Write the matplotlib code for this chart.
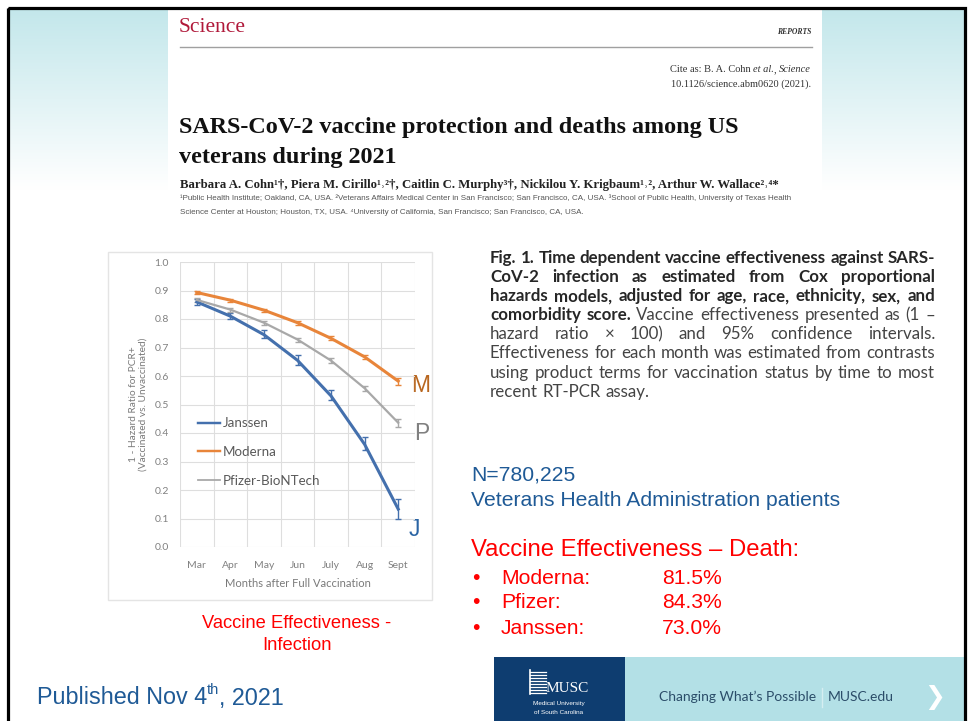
import numpy as np
import matplotlib
matplotlib.use("Agg")
import matplotlib.pyplot as plt
from matplotlib.colors import LinearSegmentedColormap
from matplotlib.patches import Rectangle
from matplotlib.lines import Line2D

# chart data (1 - hazard ratio, with 95% CI)
months = ["Mar", "Apr", "May", "Jun", "July", "Aug", "Sept"]
janssen = [0.86, 0.81, 0.745, 0.655, 0.53, 0.36, 0.133]
janssen_lo = [0.85, 0.80, 0.735, 0.64, 0.515, 0.34, 0.10]
janssen_hi = [0.87, 0.82, 0.76, 0.675, 0.55, 0.385, 0.17]
moderna = [0.893, 0.866, 0.831, 0.787, 0.732, 0.667, 0.582]
moderna_lo = [0.888, 0.860, 0.825, 0.780, 0.725, 0.658, 0.570]
moderna_hi = [0.898, 0.871, 0.836, 0.793, 0.740, 0.675, 0.592]
pfizer = [0.867, 0.833, 0.787, 0.728, 0.654, 0.557, 0.436]
pfizer_lo = [0.860, 0.826, 0.780, 0.720, 0.645, 0.548, 0.420]
pfizer_hi = [0.875, 0.840, 0.793, 0.735, 0.662, 0.566, 0.450]
series_names = ["Janssen", "Moderna", "Pfizer-BioNTech"]

# death effectiveness list on the right
death_brands = ["Moderna:", "Pfizer:", "Janssen:"]
death_values = ["81.5%", "84.3%", "73.0%"]

caption_lines = [
    ("Fig. 1. Time dependent vaccine effectiveness against SARS-", ""),
    ("CoV-2 infection as estimated from Cox proportional", ""),
    ("hazards models, adjusted for age, race, ethnicity, sex, and", ""),
    ("comorbidity score.", "Vaccine effectiveness presented as (1 \u2013"),
    ("", "hazard ratio \u00d7 100) and 95% confidence intervals."),
    ("", "Effectiveness for each month was estimated from contrasts"),
    ("", "using product terms for vaccination status by time to most"),
    ("", "recent RT-PCR assay."),
]

plt.rcParams['font.family'] = ['Lato', 'DejaVu Sans']

fig = plt.figure(figsize=(9.69, 7.21), dpi=100)
renderer = fig.canvas.get_renderer()


def width_of(t):
    return t.get_window_extent(renderer).width


# background layer in pixel coordinates
bg = fig.add_axes([0, 0, 1, 1])
bg.set_xlim(0, 969)
bg.set_ylim(721, 0)
bg.axis('off')

grad = np.linspace(0, 1, 200).reshape(-1, 1)
cmap = LinearSegmentedColormap.from_list("sky", ["#c3e7eb", "#ffffff"])
bg.imshow(grad, cmap=cmap, extent=(8, 965, 190, 8), aspect='auto', zorder=0)

# Science paper header
bg.add_patch(Rectangle((168, 8), 654, 222, facecolor='white', edgecolor='none', zorder=1))
serif = ['Liberation Serif', 'DejaVu Serif']
sans = ['Liberation Sans', 'DejaVu Sans']
bg.text(179, 27, "Science", family=serif, fontsize=15.5, color='#b0193a', va='center', zorder=2)
bg.text(811, 32, "REPORTS", family=serif, fontsize=5.5, style='italic', fontweight='bold',
        color='#333333', ha='right', va='center', zorder=2)
bg.plot([180, 812], [47, 47], color='#a0a0a0', lw=1, zorder=2)

# citation line with italic parts: (text, style, space after)
sp_a = bg.text(0, -50, "a a", family=serif, fontsize=7.5)
sp_b = bg.text(0, -50, "aa", family=serif, fontsize=7.5)
serif_space = width_of(sp_a) - width_of(sp_b)
sp_a.remove()
sp_b.remove()
cite_parts = [("Cite as: B. A. Cohn", 'normal', serif_space), ("et al.", 'italic', 0),
              (",", 'normal', serif_space), ("Science", 'italic', 0)]
cite_texts = [bg.text(0, 70, s, family=serif, fontsize=7.5, style=st, color='#333333',
                      va='center', zorder=2) for s, st, _ in cite_parts]
cite_w = [width_of(t) for t in cite_texts]
xc = 811 - sum(cite_w) - sum(p[2] for p in cite_parts)
for t, w, p in zip(cite_texts, cite_w, cite_parts):
    t.set_x(xc)
    xc += w + p[2]
bg.text(811, 84, "10.1126/science.abm0620 (2021).", family=serif, fontsize=7.5,
        color='#333333', ha='right', va='center', zorder=2)
bg.text(179, 127, "SARS-CoV-2 vaccine protection and deaths among US", family=serif,
        fontsize=17.4, fontweight='bold', color='#111111', va='center', zorder=2)
bg.text(179, 157, "veterans during 2021", family=serif,
        fontsize=17.4, fontweight='bold', color='#111111', va='center', zorder=2)
bg.text(180, 185, "Barbara A. Cohn\u00b9\u2020, Piera M. Cirillo\u00b9\u02d2\u00b2\u2020, Caitlin C. Murphy\u00b3\u2020, "
        "Nickilou Y. Krigbaum\u00b9\u02d2\u00b2, Arthur W. Wallace\u00b2\u02d2\u2074*",
        family=serif, fontsize=9.2, fontweight='bold', color='#222222', va='center', zorder=2)
bg.text(180, 198, "\u00b9Public Health Institute; Oakland, CA, USA. \u00b2Veterans Affairs Medical Center in San Francisco; "
        "San Francisco, CA, USA. \u00b3School of Public Health, University of Texas Health",
        family=sans, fontsize=5.8, color='#555555', va='center', zorder=2)
bg.text(180, 212, "Science Center at Houston; Houston, TX, USA. \u2074University of California, San Francisco; "
        "San Francisco, CA, USA.", family=sans, fontsize=5.8, color='#555555', va='center', zorder=2)

# chart picture box
bg.add_patch(Rectangle((108, 252), 324, 348, facecolor='white', edgecolor='#e4e4e4', lw=1, zorder=1))

# justified figure caption, font sized so the widest line nearly fills the column
cap_x0, cap_x1, cap_y0, cap_dy = 490, 935, 258, 19.1
base_fs = 10.0
probe = bg.text(0, -50, caption_lines[2][0], fontsize=base_fs, fontweight='bold')
cap_fs = base_fs * (cap_x1 - cap_x0) * 0.965 / width_of(probe)
probe.remove()

probe_a = bg.text(0, -50, "a a", fontsize=cap_fs)
probe_b = bg.text(0, -50, "aa", fontsize=cap_fs)
space_w = width_of(probe_a) - width_of(probe_b)
probe_a.remove()
probe_b.remove()

for i, (bold_part, reg_part) in enumerate(caption_lines):
    y = cap_y0 + i * cap_dy
    words = [(w, 'bold', '#262626') for w in bold_part.split()] + \
            [(w, 'normal', '#444444') for w in reg_part.split()]
    texts = [bg.text(0, y, w, fontsize=cap_fs, fontweight=wt, color=c,
                     va='center', zorder=2) for w, wt, c in words]
    widths = [width_of(t) for t in texts]
    last = i == len(caption_lines) - 1
    gap = space_w if last else (cap_x1 - cap_x0 - sum(widths)) / (len(words) - 1)
    x = cap_x0
    for t, w in zip(texts, widths):
        t.set_x(x)
        x += w + gap

# ---- the chart ----
ax = fig.add_axes([180 / 969, 1 - 547 / 721, 235 / 969, 285 / 721])
ax.set_facecolor('none')
xs = np.arange(len(months))
styles = [("#4470ad", 2.2), ("#e8853a", 2.2), ("#a8a8a8", 1.6)]
handles = []
for vals, lo, hi, name, (col, lw) in zip([janssen, moderna, pfizer],
                                         [janssen_lo, moderna_lo, pfizer_lo],
                                         [janssen_hi, moderna_hi, pfizer_hi],
                                         series_names, styles):
    vals = np.array(vals)
    err = [vals - np.array(lo), np.array(hi) - vals]
    ax.errorbar(xs, vals, yerr=err, color=col, lw=lw, elinewidth=1, capsize=2,
                capthick=1, zorder=3)
    handles.append(Line2D([], [], color=col, lw=lw * 0.8, label=name))

ax.set_xlim(-0.5, len(months) - 0.5)
ax.set_ylim(0, 1.0)
ax.set_yticks(np.arange(0, 1.01, 0.1))
ax.set_yticklabels([f"{v:.1f}" for v in np.arange(0, 1.01, 0.1)])
ax.set_xticks(xs)
ax.set_xticklabels(months)
ax.set_xticks(np.arange(-0.5, len(months)), minor=True)
ax.grid(axis='y', color='#dedede', lw=0.8)
ax.grid(axis='x', which='minor', color='#dedede', lw=0.8)
for s in ax.spines.values():
    s.set_visible(False)
ax.tick_params(which='both', length=0, labelsize=7.5, labelcolor='#808080')
ax.tick_params(axis='y', pad=8)
ax.tick_params(axis='x', pad=10)
ax.set_xlabel("Months after Full Vaccination", fontsize=8, color='#7a7a7a', labelpad=6)
ax.set_ylabel("1 - Hazard Ratio for PCR+\n(Vaccinated vs. Unvaccinated)", fontsize=7.3,
              color='#7a7a7a', labelpad=5, linespacing=1.05)
leg = ax.legend(handles=handles, loc='upper left', bbox_to_anchor=(0.075, 0.455), frameon=False,
                fontsize=9.6, handlelength=1.7, handletextpad=0.2, labelspacing=1.25,
                borderpad=0, borderaxespad=0)
for txt in leg.get_texts():
    txt.set_color('#595959')

# series letters next to the chart
bg.text(411, 385, "M", family=sans, fontsize=16.5, color='#b8661f', va='center', zorder=3)
bg.text(414, 434, "P", family=sans, fontsize=16.5, color='#808080', va='center', zorder=3)
bg.text(409, 530, "J", family=sans, fontsize=16.5, color='#2a64a4', va='center', zorder=3)

# slide text, right side
blue = '#1f5a96'
red = '#ff0000'
bg.text(471, 475, "N=780,225", family=sans, fontsize=15.2, color=blue, va='center')
bg.text(471, 500, "Veterans Health Administration patients", family=sans, fontsize=15.2,
        color=blue, va='center')
bg.text(471, 550, "Vaccine Effectiveness \u2013 Death:", family=sans, fontsize=17.2, color=red, va='center')
for k, (brand, val) in enumerate(zip(death_brands, death_values)):
    y = 578 + k * 25
    bg.text(472, y, "\u2022", family=sans, fontsize=15.2, color=red, va='center')
    bg.text(501, y, brand, family=sans, fontsize=15.2, color=red, va='center')
    bg.text(662, y, val, family=sans, fontsize=15.2, color=red, va='center')

bg.text(297, 623, "Vaccine Effectiveness -", family=sans, fontsize=13.2, color=red, ha='center', va='center')
bg.text(297, 646, "Infection", family=sans, fontsize=13.2, color=red, ha='center', va='center')

# published date with superscript
p1 = bg.text(37, 698, "Published Nov 4", family=sans, fontsize=16.8, color=blue, va='center')
x_after = 37 + width_of(p1)
p2 = bg.text(x_after, 690, "th", family=sans, fontsize=10.5, color=blue, va='center')
bg.text(x_after + width_of(p2), 698, ", 2021", family=sans, fontsize=16.8, color=blue, va='center')

# MUSC footer
bg.add_patch(Rectangle((494, 657), 131, 70, facecolor='#0e3d70', edgecolor='none', zorder=1))
bg.add_patch(Rectangle((625, 657), 340, 70, facecolor='#b3e0e6', edgecolor='none', zorder=1))
for yy in np.arange(672, 694, 3):
    bg.plot([530, 546], [yy, yy], color='white', lw=0.9, zorder=2)
bg.plot([530, 530], [670, 694], color='white', lw=1.2, zorder=2)
bg.text(546, 688, "MUSC", family=serif, fontsize=11, color='white', va='center', zorder=2)
bg.text(559, 703, "Medical University", family=sans, fontsize=4.6, color='white', ha='center',
        va='center', zorder=2)
bg.text(559, 712, "of South Carolina", family=sans, fontsize=4.6, color='white', ha='center',
        va='center', zorder=2)
bg.text(659, 697, "Changing What\u2019s Possible", fontsize=10, color='#2b4d69', va='center', zorder=2)
bg.plot([822, 822], [688, 707], color='#d5eef1', lw=1, zorder=2)
bg.text(828, 697, "MUSC.edu", fontsize=10, color='#2b4d69', va='center', zorder=2)
bg.text(924, 697, "\u276f", family=['DejaVu Sans'], fontsize=18, fontweight='bold', color='white',
        va='center', zorder=2)

# slide frame
bg.add_patch(Rectangle((8, 8), 957, 730, facecolor='none', edgecolor='black', lw=2.3, zorder=5))

plt.savefig('out.png', dpi=100)
